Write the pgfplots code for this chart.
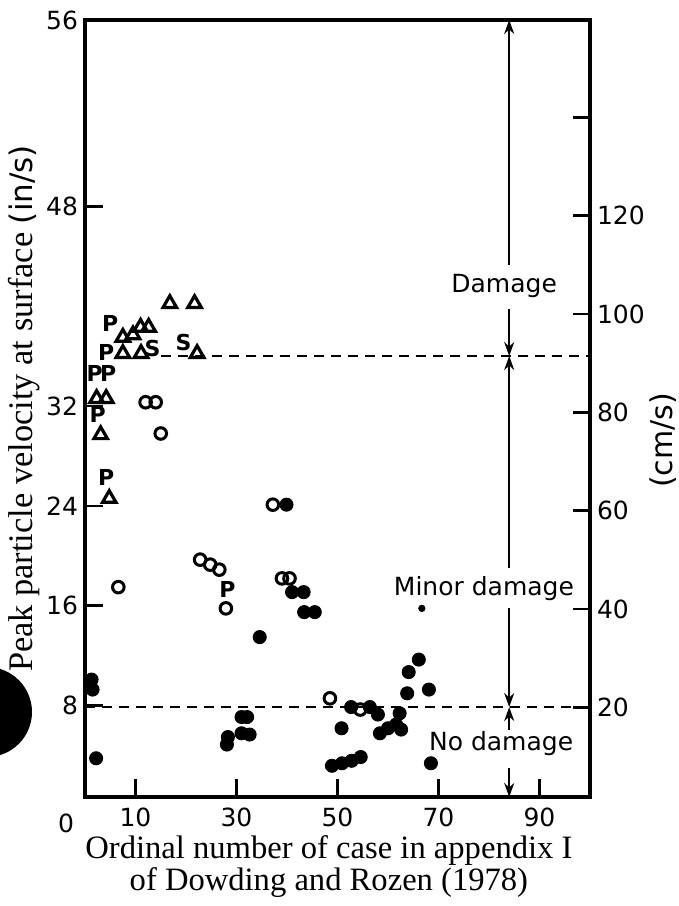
\documentclass[border=0pt]{standalone}
\usepackage{fontspec}
\setmainfont{Liberation Serif}
\newfontfamily\lettering{DejaVu Sans}
\usepackage{pgfplots}
\pgfplotsset{compat=1.18}
\usetikzlibrary{arrows.meta}

\newcommand{\lt}{\lettering\fontsize{12.5}{14}\selectfont}
\newcommand{\mk}{\lettering\bfseries\fontsize{11}{11}\selectfont}

\begin{document}
\begin{tikzpicture}
\begin{axis}[
  name=ax,
  scale only axis, width=252.5pt, height=388.5pt,
  xmin=0, xmax=100, ymin=0.7, ymax=62.9,
  clip=false,
  axis line style={line width=1.7pt},
  tick align=inside, major tick length=9pt,
  tick style={line width=1.4pt, black},
  xtick pos=bottom, ytick pos=left,
  xtick={10,30,50,70,90}, xticklabels={10,30,50,70,90},
  ytick={8,16,24,32,48,62.9}, yticklabels={8,16,24,32,48,56},
  ticklabel style={font=\lt},
  xticklabel style={yshift=-2pt},
  ylabel={Peak particle velocity at surface {\lettering\fontsize{15.5}{17}\selectfont (in/s)}},
  ylabel style={font=\fontsize{17.2}{18}\selectfont, at={(axis description cs:-0.12,0.5)}, anchor=center},
  xlabel={Ordinal number of case in appendix I\\of Dowding and Rozen (1978)},
  xlabel style={font=\fontsize{16.3}{16}\selectfont, align=center, at={(axis description cs:0.483,-0.09)}, anchor=center},
]
% threshold lines
\draw[line width=1.3pt, dash pattern=on 5pt off 3.5pt] (axis cs:15,36) -- (axis cs:100,36);
\draw[line width=1.3pt, dash pattern=on 5pt off 3.5pt] (axis cs:0,7.9) -- (axis cs:100,7.9);

% filled circles
\addplot[only marks, mark=*, mark size=3.3pt, black] coordinates {
 (1.3,10.1)(1.5,9.3)(2.2,3.8)
 (31.0,7.1)(32.1,7.1)(28.3,5.5)(28.1,4.9)(31.0,5.8)(32.6,5.7)
 (34.6,13.5)(39.9,24.1)
 (41.0,17.1)(43.3,17.1)(43.4,15.5)(45.5,15.5)
 (52.7,7.9)(56.4,7.9)(58.0,7.3)(50.8,6.2)
 (58.4,5.8)(60.0,6.2)(61.6,6.5)(62.6,6.1)
 (48.9,3.2)(50.9,3.4)(52.8,3.6)(54.6,3.9)
 (62.3,7.4)(63.8,9.0)(64.1,10.7)(66.1,11.7)(68.1,9.3)(68.5,3.4)
};
\addplot[only marks, mark=*, mark size=1.6pt, black] coordinates {(66.7,15.8)};
% open circles
\addplot[only marks, mark=o, mark size=2.9pt, black, mark options={line width=1.5pt, fill=white}] coordinates {
 (6.6,17.5)(12.0,32.3)(14.0,32.3)(15.0,29.8)
 (22.8,19.7)(24.8,19.3)(26.6,18.9)(27.9,15.8)
 (37.2,24.1)(39.0,18.2)(40.5,18.2)(48.5,8.6)(54.5,7.7)
};
% triangles
\addplot[only marks, mark=triangle, mark size=3.9pt, black, mark options={line width=1.6pt, fill=white}] coordinates {
 (16.8,40.2)(21.7,40.2)
 (7.5,37.5)(9.5,37.7)(11.0,38.3)(12.6,38.3)
 (7.5,36.2)(11.1,36.2)(22.2,36.2)
 (2.3,32.6)(4.2,32.6)(3.1,29.7)(4.8,24.6)
};
% letter marks
\addplot[only marks, mark=text, text mark={\mk P}] coordinates {
 (5.0,38.6)(4.2,36.3)(1.9,34.6)(4.6,34.6)(2.5,31.3)(4.2,26.3)(28.2,17.3)
};
\addplot[only marks, mark=text, text mark={\mk S}] coordinates {
 (13.4,36.6)(19.5,37.1)
};

% zone annotations
\node[font=\lt] at (axis cs:83,41.6) {Damage};
\node[font=\lt] at (axis cs:79,17.4) {Minor damage};
\node[font=\lt] at (axis cs:82.4,5.0) {No damage};
\begin{scope}[line width=1pt, -{Stealth[length=7pt,width=5pt]}]
\draw (axis cs:84,43.3) -- (axis cs:84,62.9);
\draw (axis cs:84,39.8) -- (axis cs:84,36);
\draw (axis cs:84,19.0) -- (axis cs:84,36);
\draw (axis cs:84,15.8) -- (axis cs:84,7.9);
\draw (axis cs:84,6.1) -- (axis cs:84,7.9);
\draw (axis cs:84,3.0) -- (axis cs:84,0.7);
\end{scope}
\node[font=\lt, anchor=north] at ([xshift=-9.5pt,yshift=-5pt]axis cs:0,0.7) {0};
\end{axis}

\begin{axis}[
  scale only axis, width=252.5pt, height=388.5pt,
  xmin=0, xmax=100, ymin=1.78, ymax=159.77,
  axis x line=none, axis y line*=right,
  axis line style={line width=1.7pt},
  tick align=inside, major tick length=8.5pt,
  tick style={line width=1.4pt, black},
  ytick={20,40,60,80,100,120,140}, yticklabels={20,40,60,80,100,120,{}},
  ticklabel style={font=\lt},
  ylabel={(cm/s)},
  ylabel style={font=\lettering\fontsize{15}{16}\selectfont, at={(axis description cs:1.145,0.459)}, anchor=center},
]
\end{axis}

\pgfresetboundingbox
\path[use as bounding box] ([xshift=-42.5pt,yshift=-54.5pt]ax.south west) rectangle ([xshift=44.5pt,yshift=10pt]ax.north east);
\begin{scope}
\clip ([xshift=-42.5pt,yshift=-54.5pt]ax.south west) rectangle ([xshift=44.5pt,yshift=10pt]ax.north east);
\fill ([xshift=-49pt,yshift=42.5pt]ax.south west) circle (22.5pt);
\end{scope}
\end{tikzpicture}
\end{document}
